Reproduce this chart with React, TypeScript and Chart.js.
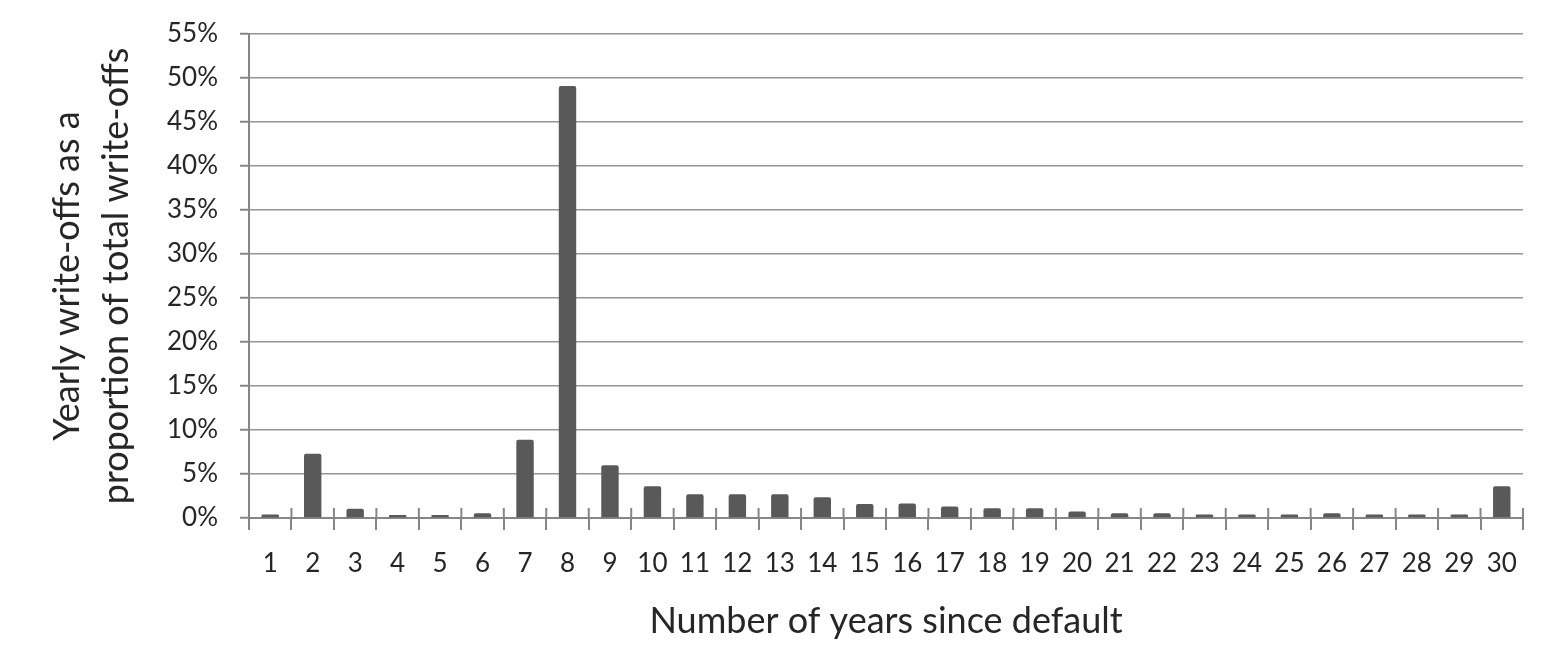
import React, { useEffect, useRef } from "react";
import { Chart, registerables } from "chart.js";

Chart.register(...registerables);

const categories: string[] = Array.from({ length: 30 }, (_, i) => String(i + 1));
const writeOffShare: number[] = [
  0.4, 7.3, 1.05, 0.35, 0.35, 0.55, 8.9, 49.1, 6.0, 3.6,
  2.7, 2.7, 2.7, 2.35, 1.6, 1.65, 1.3, 1.1, 1.1, 0.75,
  0.55, 0.55, 0.4, 0.4, 0.4, 0.55, 0.4, 0.4, 0.4, 3.6,
];
const yTitleLines: string[] = ["Yearly write-offs as a", "proportion of total write-offs"];
const xTitle = "Number of years since default";

const AXIS = "#868686";
const GRID = "#959595";
const TEXT = "#262626";
const FONT = "Lato";

const crossTicks = {
  id: "crossTicks",
  afterDatasetsDraw(chart: any) {
    const xs = chart.scales.x;
    const { ctx, chartArea } = chart;
    const n = chart.data.labels.length;
    const w = (xs.right - xs.left) / n;
    ctx.save();
    ctx.strokeStyle = AXIS;
    ctx.lineWidth = 2;
    for (let i = 0; i <= n; i++) {
      const x = i < n ? xs.getPixelForTick(i) - w / 2 : xs.getPixelForTick(n - 1) + w / 2;
      ctx.beginPath();
      ctx.moveTo(x, chartArea.bottom - 10);
      ctx.lineTo(x, chartArea.bottom);
      ctx.stroke();
    }
    ctx.restore();
  },
};

export default function App() {
  const ref = useRef<HTMLCanvasElement>(null);
  useEffect(() => {
    if (!ref.current) return;
    const chart = new Chart(ref.current, {
      type: "bar",
      data: {
        labels: categories,
        datasets: [
          {
            data: writeOffShare,
            backgroundColor: "#595959",
            borderRadius: 2,
            borderSkipped: "bottom",
            barPercentage: 0.41,
            categoryPercentage: 1,
          },
        ],
      },
      options: {
        responsive: false,
        animation: false,
        devicePixelRatio: 1,
        layout: { padding: { top: 34, right: 33, bottom: 0, left: 0 } },
        plugins: { legend: { display: false }, tooltip: { enabled: false } },
        scales: {
          x: {
            offset: true,
            afterFit: (s: any) => {
              s.height = 140;
            },
            grid: {
              display: true,
              offset: true,
              drawOnChartArea: false,
              drawTicks: true,
              tickLength: 12,
              color: AXIS,
              lineWidth: 2,
            },
            border: { display: true, color: AXIS, width: 2 },
            ticks: {
              color: TEXT,
              font: { family: FONT, size: 26 },
              padding: 18,
              maxRotation: 0,
              autoSkip: false,
            },
            title: {
              display: true,
              text: xTitle,
              color: TEXT,
              font: { family: FONT, size: 36, lineHeight: 1.2 },
              padding: { top: 0, bottom: 15 },
            },
          },
          y: {
            min: 0,
            max: 55,
            afterFit: (s: any) => {
              s.width = 249;
              s.paddingTop = 0;
            },
            grid: {
              color: GRID,
              lineWidth: 1.5,
              drawTicks: true,
              tickLength: 9,
              tickColor: AXIS,
              tickWidth: 2,
            },
            border: { display: true, color: AXIS, width: 2 },
            ticks: {
              stepSize: 5,
              color: TEXT,
              font: { family: FONT, size: 26 },
              padding: 22,
              callback: (v: any) => `${v}%`,
            },
            title: {
              display: true,
              text: yTitleLines,
              color: TEXT,
              font: { family: FONT, size: 36, lineHeight: 1.36 },
              padding: { top: 43, bottom: 0 },
            },
          },
        },
      },
      plugins: [crossTicks],
    });
    return () => chart.destroy();
  }, []);
  return (
    <canvas
      ref={ref}
      width={1556}
      height={658}
      style={{ position: "absolute", left: 0, top: 0, display: "block", background: "#fff" }}
    />
  );
}
